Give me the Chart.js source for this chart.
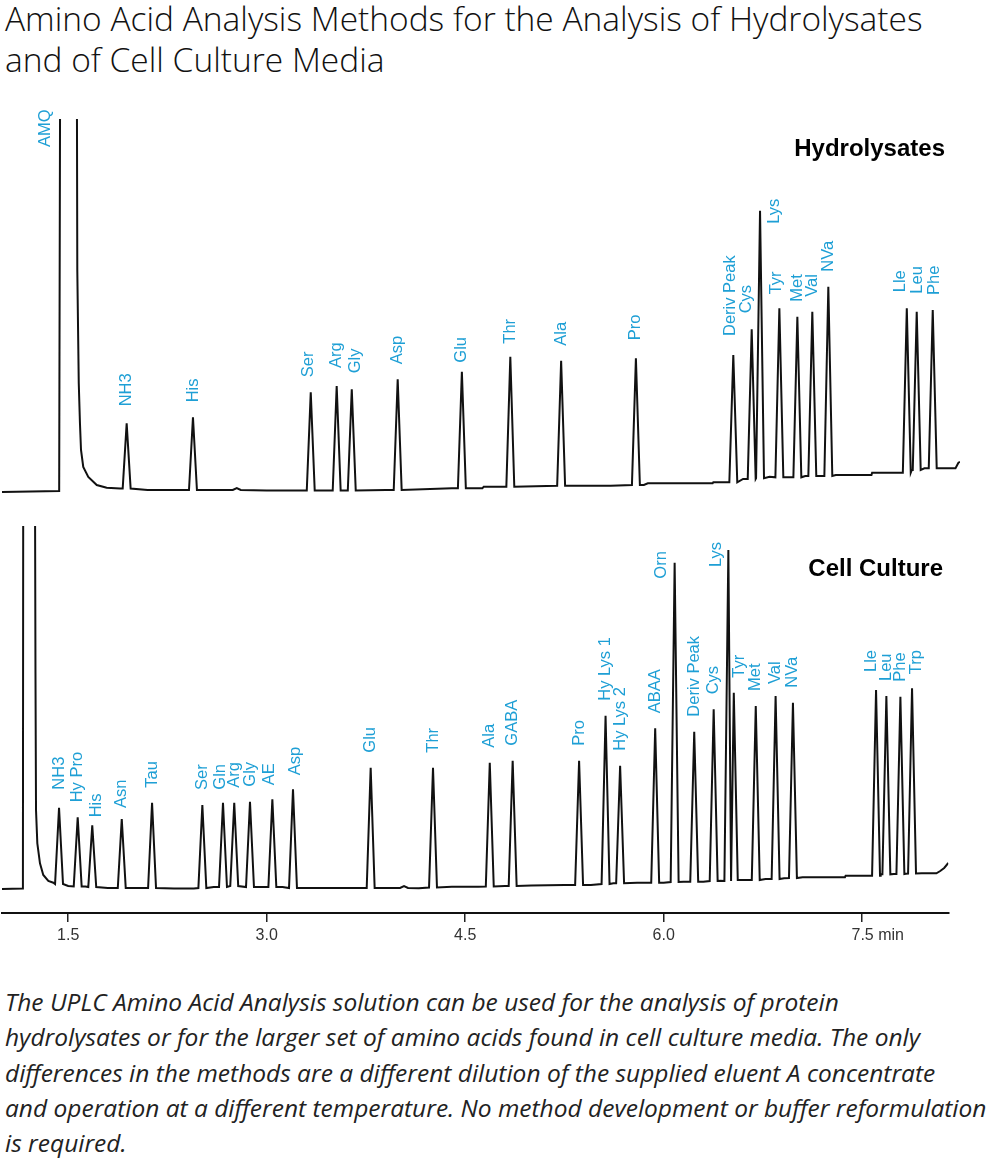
<!DOCTYPE html>
<html>
<head>
<meta charset="utf-8">
<script src="https://cdn.jsdelivr.net/npm/chart.js@4.4.1/dist/chart.umd.min.js"></script>
<style>
  body { margin: 0; width: 995px; height: 1160px; background: #fff; position: relative; overflow: hidden; }
  .title { position: absolute; left: 5px; top: -2px; font-family: 'Open Sans', sans-serif; font-weight: 300; font-size: 33.5px; line-height: 41px; color: #111; white-space: nowrap; }
  .caption { position: absolute; left: 5px; top: 984px; font-family: 'Open Sans', sans-serif; font-style: italic; font-size: 24.5px; line-height: 35.3px; color: #222; white-space: nowrap; }
  .panel { position: absolute; font-family: 'Liberation Sans', Arial, sans-serif; font-weight: bold; font-size: 24px; line-height: 24px; color: #000; }
  .plot { position: absolute; left: 0; width: 995px; }
</style>
</head>
<body>
<div class="title">Amino Acid Analysis Methods for the Analysis of Hydrolysates<br>and of Cell Culture Media</div>

<div class="plot" style="top:95px;height:405px"><canvas id="hydroChart"></canvas></div>
<div class="plot" style="top:500px;height:455px"><canvas id="cellChart"></canvas></div>
<div class="panel" style="top:136px;right:50px">Hydrolysates</div>
<div class="panel" style="top:556px;right:52px">Cell Culture</div>

<div class="caption">The UPLC Amino Acid Analysis solution can be used for the analysis of protein<br>hydrolysates or for the larger set of amino acids found in cell culture media. The only<br>differences in the methods are a different dilution of the supplied eluent A concentrate<br>and operation at a different temperature. No method development or buffer reformulation<br>is required.</div>

<script>
// Hydrolysates run: peaks (retention time in min, apex and foot in detector units)
const hydroNames = ['NH3', 'His', '', 'Ser', 'Arg', 'Gly', 'Asp', 'Glu', 'Thr', 'Ala', 'Pro', 'Deriv Peak', 'Cys', 'Lys', 'Tyr', 'Met', 'Val', 'NVa', 'Lle', 'Leu', 'Phe'];
const hydroTimes = [1.942, 2.443, 2.774, 3.333, 3.529, 3.643, 3.990, 4.475, 4.841, 5.225, 5.790, 6.526, 6.665, 6.728, 6.874, 7.010, 7.123, 7.244, 7.837, 7.912, 8.033];
const hydroApex = [68.7, 74.7, 4, 99.7, 106, 102.7, 112.7, 120.3, 135.3, 131.3, 133.7, 137, 162.7, 281.3, 183.7, 175.3, 180.3, 205.3, 183.7, 180.3, 182];
const hydroFoot = [3.5, 2, 2, 1.5, 1.5, 1.5, 2, 3.7, 5.3, 6.3, 7, 9.7, 13, 13.7, 14.7, 14.7, 16, 16, 19.3, 22, 23.7];
// baseline of the hydrolysate run, AMQ reagent peak goes off scale
const hydroBaseTimes = [1.00, 1.432, 1.441, 1.564, 1.569, 1.580, 1.589, 1.597, 1.614, 1.652, 1.716, 1.791, 1.892, 2.10, 2.60, 3.00, 3.90, 4.40, 4.63, 4.64, 5.60, 5.85, 5.88, 6.37, 6.375, 6.48, 6.60, 6.70, 6.80, 6.94, 7.07, 7.18, 7.30, 7.50, 7.57, 7.575, 7.80, 7.875, 7.97, 8.08, 8.205, 8.227, 8.239];
const hydroBaseValues = [0, 1, 520, 520, 222, 109, 69, 42, 25, 15, 7, 4.3, 3.5, 2, 2, 1.5, 2, 3.7, 3.7, 5.3, 6.3, 7, 8.7, 8.7, 9.7, 9.7, 13, 13.7, 15.3, 14.7, 16, 16, 17, 17, 17, 19.3, 19.3, 22, 23.7, 23.7, 23.7, 29.3, 30];

// Cell culture run
const cellNames = ['NH3', 'Hy Pro', 'His', 'Asn', 'Tau', 'Ser', 'Gln', 'Arg', 'Gly', 'AE', 'Asp', 'Glu', '', 'Thr', 'Ala', 'GABA', 'Pro', 'Hy Lys 1', 'Hy Lys 2', 'ABAA', 'Orn', 'Deriv Peak', 'Cys', 'Lys', 'Tyr', 'Met', 'Val', 'NVa', 'Lle', 'Leu', 'Phe', 'Trp'];
const cellTimes = [1.431, 1.572, 1.682, 1.905, 2.134, 2.514, 2.670, 2.755, 2.874, 3.043, 3.199, 3.786, 4.038, 4.257, 4.686, 4.859, 5.361, 5.561, 5.671, 5.936, 6.083, 6.231, 6.378, 6.489, 6.530, 6.696, 6.846, 6.977, 7.605, 7.683, 7.789, 7.877];
const cellApex = [81.3, 71.7, 63.7, 70, 86.3, 84, 86.3, 86.3, 87.3, 89.7, 99.7, 121.3, 3, 121.3, 126.3, 128.3, 128.3, 173.3, 123.3, 160.7, 326.3, 157.3, 179.7, 339, 196.3, 183, 193, 186.3, 199, 193, 192.3, 200.7];
const cellFoot = [5, 2.5, 2, 1, 1, 1, 2, 3, 2, 2, 1, 1, 1, 1.5, 2.5, 3, 4, 5, 5.7, 6.3, 7, 7.3, 8, 8, 9, 9, 10, 11, 13.3, 14.7, 15, 15.5];
const cellBaseTimes = [1.00, 1.158, 1.161, 1.247, 1.253, 1.257, 1.267, 1.287, 1.312, 1.350, 1.388, 1.50, 1.63, 1.80, 2.00, 2.30, 2.45, 2.60, 3.12, 3.30, 3.70, 3.95, 4.15, 4.40, 4.60, 4.80, 5.00, 5.25, 5.45, 5.62, 5.80, 6.00, 6.15, 6.30, 6.43, 6.60, 6.77, 6.91, 7.05, 7.37, 7.375, 7.55, 7.64, 7.74, 7.83, 7.95, 8.061, 8.09, 8.12, 8.151];
const cellBaseValues = [0, 0.5, 520, 520, 216, 79, 45.7, 25.7, 14, 8, 6.3, 3, 2.5, 1, 1, 0.5, 0.5, 2, 2, 1, 1, 1, 0.7, 2.3, 2.3, 3, 3.5, 4, 4, 5.7, 6.3, 6.3, 7.3, 7.3, 8.3, 9, 10, 10.7, 11.7, 11.7, 13.3, 13.3, 14.7, 15, 15.3, 15.7, 15.7, 18, 21, 26];

// time axis
const tickValues = [1.5, 3.0, 4.5, 6.0, 7.5];
const tickLabels = ['1.5', '3.0', '4.5', '6.0', '       7.5 min'];

const labelFont = '16.5px "Liberation Sans", Arial, sans-serif';
const labelColor = '#1e9fd5';
const traceColor = '#111';

// label tweaks: [dx px, gap above apex px] (negative gap = beside the spike, below its top)
const hydroNudge = { 'NH3': [0, 17], 'Ser': [-2, 15], 'Arg': [0, 18], 'Gly': [4, 16], 'Glu': [0, 9], 'Thr': [0, 13], 'Pro': [0, 18], 'Deriv Peak': [-3, 19], 'Cys': [-5, 16], 'Lys': [14, -13], 'Tyr': [-3, 14], 'Lle': [-6, 16], 'Leu': [1, 18], 'Phe': [2, 15] };
const cellNudge = { 'NH3': [0, 18], 'His': [4, 8], 'Asn': [0, 11], 'Gln': [-3, 13], 'AE': [-3, 14], 'Asp': [2, 14], 'Val': [0, 12], 'Orn': [-13, -16], 'Lys': [-12, -17], 'Tyr': [6, 15], 'Lle': [-5, 18], 'Trp': [4, 14] };

// join baseline points with a narrow triangle for every peak
function buildTrace(baseT, baseV, peakT, peakApex, peakFoot) {
    const halfWidth = 0.03;
    const spans = peakT.map((t, i) => {
        const left = i > 0 ? Math.min(halfWidth, (t - peakT[i - 1]) / 2) : halfWidth;
        const right = i < peakT.length - 1 ? Math.min(halfWidth, (peakT[i + 1] - t) / 2) : halfWidth;
        return [t - left, t + right];
    });
    const pts = [];
    baseT.forEach((t, i) => {
        if (!spans.some(s => t > s[0] && t < s[1])) pts.push({ x: t, y: baseV[i] });
    });
    peakT.forEach((t, i) => {
        pts.push({ x: spans[i][0], y: peakFoot[i] });
        pts.push({ x: t, y: peakApex[i] });
        pts.push({ x: spans[i][1], y: peakFoot[i] });
    });
    return pts.sort((a, b) => a.x - b.x);
}

function labelPlugin(names, times, apex, nudge, extra) {
    return {
        id: 'peakLabels',
        afterDatasetsDraw(chart) {
            const { ctx, scales: { x, y } } = chart;
            ctx.save();
            ctx.font = labelFont;
            ctx.fillStyle = labelColor;
            ctx.textAlign = 'left';
            ctx.textBaseline = 'middle';
            const put = (text, px, py) => {
                ctx.save();
                ctx.translate(px, py);
                ctx.rotate(-Math.PI / 2);
                ctx.fillText(text, 0, 0);
                ctx.restore();
            };
            names.forEach((name, i) => {
                if (!name) return;
                const n = nudge[name] || [0, 15];
                put(name, x.getPixelForValue(times[i]) + n[0], y.getPixelForValue(apex[i]) - n[1]);
            });
            (extra || []).forEach(e => put(e.name, x.getPixelForValue(e.time), y.getPixelForValue(e.value)));
            ctx.restore();
        }
    };
}

// Hydrolysates chromatogram
const hydroCtx = document.getElementById('hydroChart').getContext('2d');
new Chart(hydroCtx, {
    type: 'line',
    data: {
        datasets: [{
            data: buildTrace(hydroBaseTimes, hydroBaseValues, hydroTimes, hydroApex, hydroFoot),
            borderColor: traceColor,
            borderWidth: 2,
            pointRadius: 0,
            tension: 0,
            fill: false,
        }]
    },
    options: {
        responsive: true,
        maintainAspectRatio: false,
        animation: false,
        layout: { padding: { top: 24, left: 2, right: 35, bottom: 0 } },
        plugins: { legend: { display: false }, tooltip: { enabled: false } },
        scales: {
            x: { type: 'linear', min: 1.0, max: 8.239, display: false },
            y: { min: -8, max: 373, display: false },
        },
    },
    plugins: [labelPlugin(hydroNames, hydroTimes, hydroApex, hydroNudge, [{ name: 'AMQ', time: 1.325, value: 345 }])],
});

// Cell culture chromatogram with the time axis
const cellCtx = document.getElementById('cellChart').getContext('2d');
new Chart(cellCtx, {
    type: 'line',
    data: {
        datasets: [{
            data: buildTrace(cellBaseTimes, cellBaseValues, cellTimes, cellApex, cellFoot),
            borderColor: traceColor,
            borderWidth: 2,
            pointRadius: 0,
            tension: 0,
            fill: false,
        }]
    },
    options: {
        responsive: true,
        maintainAspectRatio: false,
        animation: false,
        layout: { padding: { top: 26, left: 2, right: 46.7, bottom: 0 } },
        plugins: { legend: { display: false }, tooltip: { enabled: false } },
        scales: {
            x: {
                type: 'linear',
                min: 1.0,
                max: 8.151,
                afterBuildTicks: (scale) => { scale.ticks = tickValues.map(v => ({ value: v })); },
                afterFit: (scale) => { scale.height = 42; },
                ticks: {
                    autoSkip: false,
                    maxRotation: 0,
                    padding: 4,
                    color: '#333',
                    font: { family: '"Liberation Sans", Arial, sans-serif', size: 16 },
                    callback: (value, index) => tickLabels[index],
                },
                grid: { drawOnChartArea: false, drawTicks: true, tickLength: 9, color: '#222', lineWidth: 1.5 },
                border: { display: true, color: '#111', width: 2 },
            },
            y: { min: -24, max: 363, display: false },
        },
    },
    plugins: [labelPlugin(cellNames, cellTimes, cellApex, cellNudge)],
});
</script>
</body>
</html>
